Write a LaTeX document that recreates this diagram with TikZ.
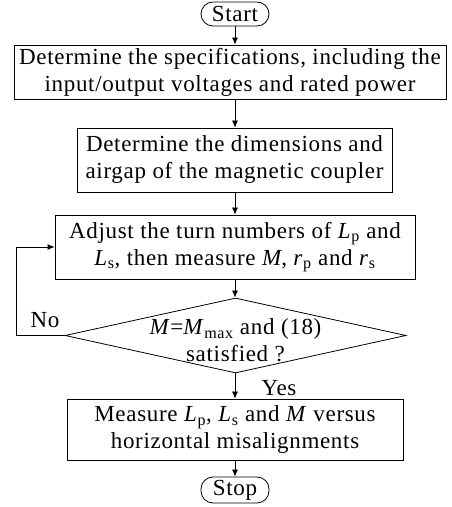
\documentclass[tikz,border=0pt]{standalone}
\usepackage{fontspec}
\setmainfont[LetterSpace=3]{Liberation Serif}
\usetikzlibrary{shapes.geometric,arrows.meta}
\tikzset{
  stepbox/.style={draw, line width=0.8pt, align=center, inner sep=0pt,
    font=\fontsize{23}{27}\selectfont},
  termbox/.style={draw, line width=0.8pt, rounded corners=12pt, inner sep=0pt,
    font=\fontsize{23}{27}\selectfont},
  flow/.style={line width=0.8pt, -{Latex[length=7pt,width=6pt]}}
}
\newcommand{\Lp}{\textit{L}\textsubscript{p}}
\newcommand{\Ls}{\textit{L}\textsubscript{s}}
\begin{document}
\begin{tikzpicture}[x=1pt,y=1pt]
    \useasboundingbox (0,0) rectangle (452,507);
    % Terminali
    \node[termbox, minimum width=68pt, minimum height=24pt] (start) at (235,493) {Start};
    \node[termbox, minimum width=68pt, minimum height=26pt] (stop) at (235,17) {Stop};

    % Blocchi
    \node[stepbox, minimum width=432pt, minimum height=54pt] (spec) at (230,435)
        {Determine the specifications, including the\\input/output voltages and rated power};
    \node[stepbox, minimum width=315pt, minimum height=64pt] (dim) at (234.5,347)
        {Determine the dimensions and\\airgap of the magnetic coupler};
    \node[stepbox, minimum width=360pt, minimum height=64pt] (adjust) at (235,260)
        {Adjust the turn numbers of \Lp{} and\\\Ls, then measure \textit{M}, \textit{r}\textsubscript{p} and \textit{r}\textsubscript{s}};
    \node[stepbox, minimum width=336pt, minimum height=61pt] (meas) at (235,77.5)
        {Measure \Lp, \Ls{} and \textit{M} versus\\horizontal misalignments};

    % Decisione
    \node[draw, diamond, line width=0.8pt, inner sep=0pt, minimum width=341pt,
        minimum height=75pt] (check) at (235.5,171.5) {};
    \node[stepbox, draw=none] (checktxt) at ([yshift=-5pt]check.center)
        {\textit{M}=\textit{M}\textsubscript{max} and (18)\\satisfied ?};

    % Collegamenti
    \draw[flow] (start) -- (spec.north -| start);
    \draw[flow] (spec.south -| start) -- (dim.north -| start);
    \draw[flow] (dim.south -| start) -- (adjust.north -| start);
    \draw[flow] (adjust.south -| start) -- (check.north -| start);
    \draw[flow] (check.south -| start) -- (meas.north -| start);
    \draw[flow] (meas.south -| start) -- (stop);
    \coordinate (loopA) at (16,171.5);
    \coordinate (loopB) at (16,260);
    \draw[flow] (check.west) -- (loopA) -- (loopB) -- (adjust.west);

    % Etichette
    \node[font=\fontsize{23}{27}\selectfont] (no) at (45,187) {No};
    \node[font=\fontsize{23}{27}\selectfont] (yes) at (279,119) {Yes};
\end{tikzpicture}
\end{document}
